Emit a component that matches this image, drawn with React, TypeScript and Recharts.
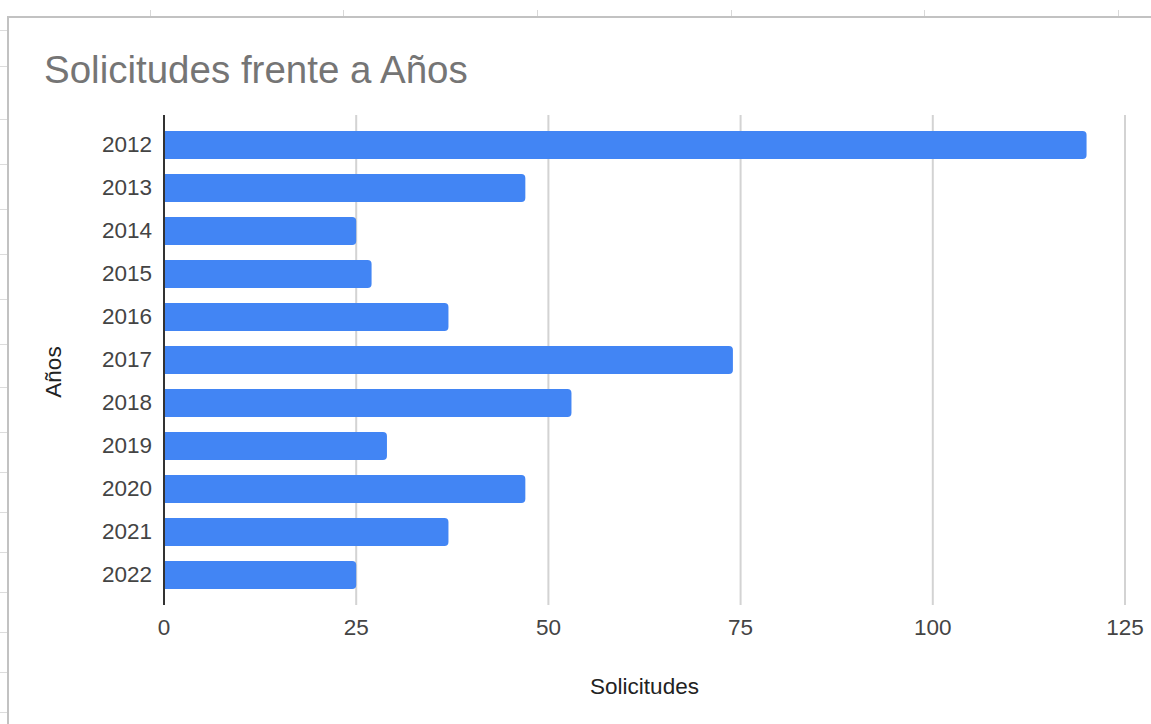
import { Bar, BarChart, CartesianGrid, Label, XAxis, YAxis } from 'recharts';

const years = ['2012', '2013', '2014', '2015', '2016', '2017', '2018', '2019', '2020', '2021', '2022'];
const solicitudes = [120, 47, 25, 27, 37, 74, 53, 29, 47, 37, 25];
const xTicks = [0, 25, 50, 75, 100, 125];

// spreadsheet bits around the chart card
const colMarks = [150, 343, 537, 731, 924, 1118];
const rowLines = [30, 66, 119, 164, 209, 254, 299, 344, 387, 432, 472, 512, 552, 592, 632, 672, 712];

const data = years.map((year, i) => ({ year, value: solicitudes[i] }));

const FONT = '"Liberation Sans", Arial, sans-serif';

function YTitle(props: any) {
  const vb = props.viewBox;
  const x = 61;
  const y = vb.y + vb.height / 2 + 12;
  return (
    <text
      x={x}
      y={y}
      transform={`rotate(-90 ${x} ${y})`}
      textAnchor="middle"
      fill="#222222"
      fontSize={22.5}
      fontFamily={FONT}
    >
      Años
    </text>
  );
}

export default function App() {
  return (
    <div
      style={{
        position: 'absolute',
        left: 0,
        top: 0,
        width: 1151,
        height: 724,
        overflow: 'hidden',
        background: '#ffffff',
        fontFamily: FONT,
      }}
    >
      {colMarks.map((x) => (
        <div
          key={x}
          style={{ position: 'absolute', left: x, top: 10, width: 1, height: 6, background: '#d8d8d8' }}
        />
      ))}
      {rowLines.map((y) => (
        <div
          key={y}
          style={{ position: 'absolute', left: 0, top: y, width: 7, height: 1, background: '#dcdcdc' }}
        />
      ))}
      <div
        style={{
          position: 'absolute',
          left: 7,
          top: 16,
          width: 1200,
          height: 800,
          borderLeft: '2px solid #c2c2c2',
          borderTop: '2px solid #c2c2c2',
          background: '#ffffff',
        }}
      />
      <div
        style={{
          position: 'absolute',
          left: 44,
          top: 51,
          fontSize: 38.5,
          lineHeight: 1,
          color: '#757575',
          whiteSpace: 'nowrap',
        }}
      >
        Solicitudes frente a Años
      </div>
      <div style={{ position: 'absolute', left: 0, top: 0 }}>
        <BarChart
          width={1151}
          height={724}
          data={data}
          layout="vertical"
          margin={{ top: 115, right: 26, bottom: 0, left: 64 }}
          barSize={28}
        >
          <CartesianGrid horizontal={false} stroke="#d3d3d3" strokeWidth={2} />
          <XAxis
            type="number"
            domain={[0, 125]}
            ticks={xTicks}
            height={119}
            axisLine={false}
            tickLine={false}
            tickMargin={8}
            tick={{ fontSize: 22.5, fill: '#444444', fontFamily: FONT }}
          >
            <Label
              value="Solicitudes"
              position="insideBottom"
              offset={30}
              fill="#222222"
              fontSize={22.5}
              fontFamily={FONT}
            />
          </XAxis>
          <YAxis
            type="category"
            dataKey="year"
            width={100}
            padding={{ top: 8, bottom: 9 }}
            axisLine={{ stroke: '#333333', strokeWidth: 2 }}
            tickLine={false}
            tickMargin={6}
            tick={{ fontSize: 22.5, fill: '#444444', fontFamily: FONT }}
          >
            <Label content={<YTitle />} />
          </YAxis>
          <Bar dataKey="value" fill="#4285f4" radius={[0, 4, 4, 0]} isAnimationActive={false} />
        </BarChart>
      </div>
    </div>
  );
}
